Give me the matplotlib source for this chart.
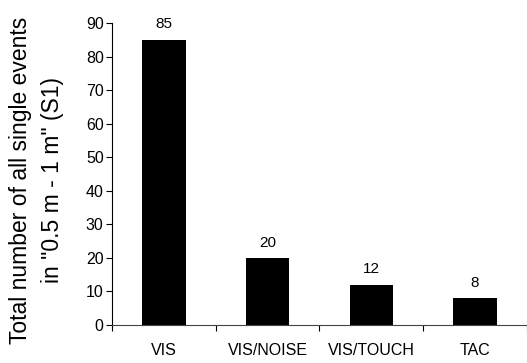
import matplotlib
matplotlib.use("Agg")
import matplotlib.pyplot as plt
import numpy as np

categories = ["VIS", "VIS/NOISE", "VIS/TOUCH", "TAC"]
values = [85, 20, 12, 8]
yticks = [0, 10, 20, 30, 40, 50, 60, 70, 80, 90]

plt.rcParams['font.family'] = ['Liberation Sans', 'DejaVu Sans']

fig = plt.figure(figsize=(5.27, 3.63), dpi=100)
ax = fig.add_axes([0.2125, 0.1047, 0.7875, 0.8319])

x = np.arange(len(categories))
ax.bar(x, values, width=0.42, color='black')
for xi, v in zip(x, values):
    ax.annotate(str(v), (xi, v), xytext=(0, 6), textcoords='offset points',
                ha='center', va='bottom', fontsize=11)

ax.set_xlim(-0.5, len(categories) - 0.5)
ax.set_ylim(0, 90)
ax.set_yticks(yticks)
ax.tick_params(axis='y', labelsize=11.5, length=4, width=0.8, direction='out', pad=2)
ax.set_xticks(x)
ax.set_xticklabels(categories)
ax.tick_params(axis='x', which='major', length=0, labelsize=11.5, pad=13)
ax.set_xticks(np.arange(len(categories) + 1) - 0.5, minor=True)
ax.tick_params(axis='x', which='minor', length=4, width=0.8, direction='out')

for s in ['top', 'right']:
    ax.spines[s].set_visible(False)
ax.spines['left'].set_linewidth(0.8)
ax.spines['bottom'].set_linewidth(0.8)
ax.spines['bottom'].set_color('#444444')

ax.set_ylabel('Total number of all single events\nin "0.5 m - 1 m" (S1)', fontsize=16.5, labelpad=16, linespacing=1.5)
ax.yaxis.label.set_y(0.48)

fig.savefig('out.png', dpi=100)
